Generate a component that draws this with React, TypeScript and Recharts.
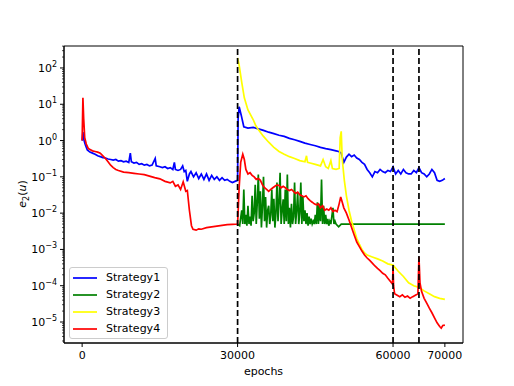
import { Legend, Line, LineChart, ReferenceArea, ReferenceLine, XAxis, YAxis } from "recharts"

// [epoch, e2(u)]
const strategy1: [number, number][] = [
  [0, 1.0], [150, 1.7], [300, 1.1], [600, 0.78], [1000, 0.55], [1500, 0.48], [2000, 0.45], [2500, 0.42],
  [3000, 0.38], [3500, 0.36], [4000, 0.34], [4500, 0.33], [5000, 0.31], [5500, 0.3], [6000, 0.29], [6500, 0.3],
  [7000, 0.27], [7500, 0.28], [8000, 0.26], [8500, 0.27], [9000, 0.25], [9300, 0.45], [9500, 0.26], [10000, 0.24],
  [10500, 0.25], [11000, 0.22], [11500, 0.23], [12000, 0.21], [12500, 0.22], [13000, 0.2], [13500, 0.21],
  [14100, 0.32], [14300, 0.2], [15000, 0.19], [15500, 0.18], [16000, 0.19], [16500, 0.17], [17000, 0.18],
  [17500, 0.16], [17800, 0.25], [18000, 0.16], [18500, 0.15], [19000, 0.16], [19400, 0.2], [19700, 0.14],
  [20000, 0.15], [20300, 0.075], [20700, 0.12], [21000, 0.14], [21500, 0.1], [22000, 0.13], [22500, 0.09],
  [23000, 0.12], [23500, 0.085], [24000, 0.12], [24500, 0.08], [25000, 0.11], [25500, 0.085], [26000, 0.1],
  [26500, 0.08], [27000, 0.095], [27500, 0.08], [28000, 0.085], [28500, 0.075], [29000, 0.07], [29500, 0.075],
  [30000, 0.08], [30100, 4], [30300, 8.5], [30700, 5], [31200, 2.4], [32000, 2.2], [33000, 2.3], [34000, 2.1],
  [35000, 1.9], [36000, 1.7], [37000, 1.55], [38000, 1.4], [39000, 1.3], [40000, 1.15], [41000, 1.05],
  [42000, 0.95], [43000, 0.85], [44000, 0.78], [45000, 0.72], [46000, 0.65], [47000, 0.6], [48000, 0.56],
  [49000, 0.52], [49500, 0.5], [50000, 0.45], [50500, 0.25], [51000, 0.35], [51500, 0.42], [52000, 0.36],
  [52500, 0.4], [53000, 0.33], [53500, 0.3], [54000, 0.25], [54500, 0.22], [55000, 0.16], [55500, 0.13],
  [56000, 0.1], [56500, 0.14], [57000, 0.13], [57500, 0.16], [58000, 0.14], [58500, 0.13], [59000, 0.15],
  [59500, 0.14], [60000, 0.19], [60500, 0.12], [61000, 0.15], [61500, 0.12], [62000, 0.16], [62500, 0.13],
  [63000, 0.12], [63500, 0.12], [64000, 0.15], [64500, 0.13], [65000, 0.18], [65500, 0.13], [66000, 0.12],
  [66500, 0.1], [67000, 0.12], [67500, 0.16], [68000, 0.13], [68500, 0.08], [69000, 0.075], [69500, 0.08],
  [70000, 0.09],
]

const strategy2: [number, number][] = [
  [30000, 0.005], [30400, 0.0045], [30800, 0.012], [31000, 0.005], [31200, 0.045], [31400, 0.005],
  [31600, 0.009], [31800, 0.0045], [32000, 0.016], [32200, 0.005], [32400, 0.008], [32600, 0.0045],
  [32800, 0.03], [33000, 0.006], [33200, 0.01], [33400, 0.06], [33600, 0.005], [33800, 0.02], [34000, 0.115],
  [34200, 0.007], [34400, 0.04], [34600, 0.004], [34800, 0.016], [35000, 0.1], [35200, 0.006], [35400, 0.028],
  [35600, 0.004], [35800, 0.012], [36000, 0.016], [36200, 0.005], [36400, 0.009], [36600, 0.045],
  [36800, 0.006], [37000, 0.025], [37200, 0.004], [37400, 0.01], [37600, 0.07], [37800, 0.006], [38000, 0.02],
  [38200, 0.13], [38400, 0.005], [38600, 0.012], [38800, 0.024], [39000, 0.005], [39200, 0.045],
  [39400, 0.006], [39600, 0.115], [39800, 0.005], [40000, 0.014], [40200, 0.004], [40400, 0.018],
  [40600, 0.005], [40800, 0.008], [41000, 0.07], [41200, 0.005], [41400, 0.012], [41600, 0.037],
  [41800, 0.005], [42000, 0.01], [42200, 0.07], [42400, 0.005], [42600, 0.028], [42800, 0.006],
  [43000, 0.012], [43200, 0.005], [43400, 0.01], [43600, 0.0045], [43800, 0.008], [44000, 0.005],
  [44200, 0.007], [44400, 0.005], [44600, 0.006], [44800, 0.005], [45000, 0.009], [45200, 0.005],
  [45400, 0.02], [45600, 0.005], [45800, 0.018], [46000, 0.006], [46200, 0.084], [46400, 0.005],
  [46600, 0.016], [46800, 0.005], [47000, 0.009], [47200, 0.005], [47400, 0.007], [47600, 0.0045],
  [47800, 0.006], [48000, 0.005], [48400, 0.014], [48600, 0.005], [48800, 0.006], [49000, 0.005],
  [49500, 0.0042], [50000, 0.005], [70000, 0.005],
]

const strategy3: [number, number][] = [
  [30000, 190], [30300, 120], [30800, 40], [31300, 15], [32000, 7], [33000, 3.8], [33500, 2.6], [34000, 2.0],
  [35000, 1.3], [36000, 0.9], [37000, 0.65], [38000, 0.5], [39000, 0.42], [40000, 0.36], [41000, 0.32],
  [42000, 0.28], [43000, 0.26], [43300, 0.38], [43500, 0.25], [44000, 0.24], [45000, 0.22], [46000, 0.2],
  [46500, 0.3], [47000, 0.19], [47500, 0.17], [48000, 0.28], [48300, 0.17], [49000, 0.16], [49600, 0.17],
  [49800, 1.2], [50000, 1.8], [50200, 0.3], [50600, 0.08], [51000, 0.03], [51500, 0.012], [52000, 0.006],
  [52500, 0.0035], [53000, 0.002], [53500, 0.0014], [54000, 0.001], [54500, 0.0008], [55000, 0.0007],
  [56000, 0.00062], [57000, 0.00055], [58000, 0.00048], [59000, 0.0004], [60000, 0.00037], [61000, 0.00025],
  [62000, 0.00018], [63000, 0.00012], [64000, 0.0001], [65000, 0.00009], [66000, 0.000072], [67000, 0.00006],
  [68000, 0.00005], [69000, 0.000045], [70000, 0.000042],
]

const strategy4: [number, number][] = [
  [0, 1.0], [150, 15], [300, 4], [500, 1.2], [800, 0.8], [1200, 0.6], [1600, 0.56], [2000, 0.52], [2500, 0.5],
  [3000, 0.48], [3500, 0.45], [4000, 0.38], [4500, 0.32], [5000, 0.26], [5500, 0.21], [6000, 0.18],
  [6500, 0.16], [7000, 0.15], [8000, 0.135], [9000, 0.13], [10000, 0.125], [11000, 0.12], [12000, 0.115],
  [13000, 0.105], [14000, 0.095], [15000, 0.088], [16000, 0.075], [17000, 0.068], [17500, 0.075],
  [18000, 0.055], [18500, 0.06], [19000, 0.045], [19500, 0.073], [20000, 0.04], [20300, 0.042],
  [20700, 0.012], [21100, 0.0045], [21400, 0.0036], [22000, 0.0034], [22500, 0.0037], [23000, 0.0036],
  [24000, 0.004], [25000, 0.0042], [26000, 0.0044], [27000, 0.0046], [28000, 0.0048], [29000, 0.0049],
  [30000, 0.005], [30300, 0.05], [30600, 0.25], [31000, 0.42], [31300, 0.3], [31600, 0.16], [32000, 0.12],
  [32400, 0.13], [32800, 0.11], [33200, 0.1], [33600, 0.085], [34000, 0.09], [34400, 0.08], [34800, 0.06],
  [35200, 0.05], [35600, 0.045], [36000, 0.04], [36400, 0.045], [36800, 0.05], [37200, 0.055], [37600, 0.06],
  [38000, 0.058], [38400, 0.05], [38800, 0.055], [39200, 0.05], [39600, 0.045], [40000, 0.042],
  [40400, 0.045], [40800, 0.04], [41200, 0.035], [41600, 0.038], [42000, 0.032], [42400, 0.03],
  [42800, 0.028], [43200, 0.03], [43600, 0.025], [44000, 0.022], [44400, 0.02], [44800, 0.018],
  [45200, 0.017], [45600, 0.018], [46000, 0.014], [46400, 0.016], [46800, 0.012], [47200, 0.013],
  [47600, 0.012], [48000, 0.014], [48400, 0.011], [48800, 0.012], [49200, 0.011], [49600, 0.018],
  [49900, 0.028], [50200, 0.02], [50500, 0.014], [51000, 0.01], [51500, 0.0065], [52000, 0.004],
  [52500, 0.0025], [53000, 0.0016], [53500, 0.0012], [54000, 0.0009], [54500, 0.0007], [55000, 0.00058],
  [55500, 0.0005], [56000, 0.00042], [56500, 0.00035], [57000, 0.0003], [57500, 0.00026], [58000, 0.00022],
  [58500, 0.0002], [59000, 0.00016], [59500, 0.00013], [59900, 0.00011], [60000, 0.00033], [60100, 0.0001],
  [60300, 0.00006], [60800, 0.000055], [61300, 0.00005], [61800, 0.000056], [62300, 0.000048],
  [62800, 0.000052], [63300, 0.000045], [63800, 0.00005], [64300, 0.000055], [64800, 0.00006],
  [65000, 0.00063], [65200, 0.00012], [65500, 0.00007], [66000, 0.000045], [66500, 0.000033],
  [67000, 0.000024], [67500, 0.000018], [68000, 0.000013], [68500, 0.0000095], [69000, 0.0000075],
  [69300, 0.0000068], [69600, 0.000008], [70000, 0.0000082],
]

const xTicks = [0, 30000, 60000, 70000]
const phaseLines = [30000, 60000, 65000]
const yMajor = [1e-5, 1e-4, 1e-3, 1e-2, 1e-1, 1, 10, 100]

const X_MIN = -3500
const X_MAX = 73500
const Y_MIN = 2.64e-6
const Y_MAX = 403

const yMinor: number[] = []
for (let k = -6; k <= 2; k++) {
  for (let m = 2; m <= 9; m++) {
    const v = m * 10 ** k
    if (v > Y_MIN && v < Y_MAX) yMinor.push(v)
  }
}
const yTicks = [...yMajor, ...yMinor]

const AXIS_X = 64
const PLOT_BOTTOM = 343
const FONT = "DejaVu Sans"

const toPoints = (d: [number, number][]) => d.map(([epoch, value]) => ({ epoch, value }))

function YTick(props: any) {
  const { y, payload } = props
  const v = payload.value
  const major = yMajor.includes(v)
  const len = major ? 4 : 2
  const exp = Math.round(Math.log10(v))
  return (
    <g>
      <line x1={AXIS_X - len} x2={AXIS_X} y1={y} y2={y} stroke="#000" strokeWidth={major ? 1 : 0.7} />
      {major && (
        <text x={AXIS_X - 7} y={y + 4} textAnchor="end" fontSize={11} fontFamily={FONT} fill="#000">
          10
          <tspan dy={-5} fontSize={8}>
            {exp < 0 ? `\u2212${-exp}` : `${exp}`}
          </tspan>
        </text>
      )}
    </g>
  )
}

function XTick(props: any) {
  const { x, payload } = props
  return (
    <g>
      <line x1={x} x2={x} y1={PLOT_BOTTOM} y2={PLOT_BOTTOM + 4} stroke="#000" strokeWidth={1} />
      <text x={x} y={PLOT_BOTTOM + 16} textAnchor="middle" fontSize={11} fontFamily={FONT} fill="#000">
        {payload.value}
      </text>
    </g>
  )
}

function YLabel() {
  return (
    <text transform="rotate(-90)" x={-194} y={26} textAnchor="middle" fontSize={11} fontFamily={FONT} fill="#000">
      <tspan fontStyle="italic">e</tspan>
      <tspan dy={3} fontSize={8}>2</tspan>
      <tspan dy={-3}>(</tspan>
      <tspan fontStyle="italic">u</tspan>
      <tspan>)</tspan>
    </text>
  )
}

function LegendBox(props: any) {
  const { payload = [] } = props
  return (
    <div
      style={{
        border: "1px solid #cccccc",
        borderRadius: 3,
        background: "rgba(255,255,255,0.8)",
        padding: "1px 7px 1px 3px",
        fontFamily: FONT,
        fontSize: 11,
        color: "#000",
      }}
    >
      {payload.map((item: any) => (
        <div key={item.value} style={{ display: "flex", alignItems: "center", height: 17 }}>
          <svg width={24} height={4}>
            <line x1={0} x2={24} y1={2} y2={2} stroke={item.color} strokeWidth={1.7} />
          </svg>
          <span style={{ marginLeft: 9 }}>{item.value}</span>
        </div>
      ))}
    </div>
  )
}

export default function App() {
  return (
    <div style={{ position: "absolute", left: 0, top: 0 }}>
      <LineChart width={514} height={386} margin={{ top: 46, right: 51, bottom: 0, left: 0 }}>
        <XAxis
          dataKey="epoch"
          type="number"
          domain={[X_MIN, X_MAX]}
          allowDataOverflow
          ticks={xTicks}
          interval={0}
          tick={(p: any) => <XTick {...p} />}
          tickLine={false}
          axisLine={{ stroke: "#000" }}
          height={43}
          label={{ value: "epochs", position: "insideBottom", offset: 11, fontSize: 11, fontFamily: FONT, fill: "#000" }}
        />
        <YAxis
          type="number"
          scale="log"
          domain={[Y_MIN, Y_MAX]}
          allowDataOverflow
          ticks={yTicks}
          interval={0}
          tick={(p: any) => <YTick {...p} />}
          tickLine={false}
          axisLine={{ stroke: "#000" }}
          width={64}
          label={() => <YLabel />}
        />
        <ReferenceArea x1={X_MIN} x2={X_MAX} y1={Y_MIN} y2={Y_MAX} fill="none" stroke="#000" strokeWidth={1} ifOverflow="visible" />
        <Line data={toPoints(strategy1)} dataKey="value" name="Strategy1" stroke="#0000ff" strokeWidth={1.7} dot={false} isAnimationActive={false} />
        <Line data={toPoints(strategy2)} dataKey="value" name="Strategy2" stroke="#008000" strokeWidth={1.7} dot={false} isAnimationActive={false} />
        <Line data={toPoints(strategy3)} dataKey="value" name="Strategy3" stroke="#ffff00" strokeWidth={1.7} dot={false} isAnimationActive={false} />
        <Line data={toPoints(strategy4)} dataKey="value" name="Strategy4" stroke="#ff0000" strokeWidth={1.7} dot={false} isAnimationActive={false} />
        {phaseLines.map((x) => (
          <ReferenceLine key={x} x={x} stroke="#000" strokeWidth={1.7} strokeDasharray="6 3" />
        ))}
        <Legend
          layout="vertical"
          align="center"
          verticalAlign="middle"
          content={(p: any) => <LegendBox {...p} />}
          wrapperStyle={{ left: 69, top: 267, width: "auto", height: "auto" }}
        />
      </LineChart>
    </div>
  )
}
